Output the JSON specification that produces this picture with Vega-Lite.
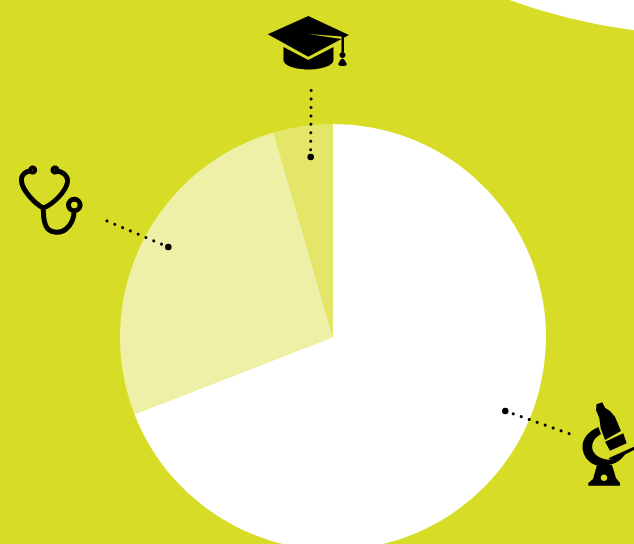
{
"$schema":"https://vega.github.io/schema/vega-lite/v6.json",
"width":634,"height":544,"padding":0,"autosize":{"type":"none"},
"background":"#d7dc26",
"view":{"stroke":null},
"layer":[
{"data":{"values":[{"shape":"corner circle","x":713,"y":-564.5}]},
 "mark":{"type":"circle","size":1440000,"color":"#ffffff","opacity":1},
 "encoding":{"x":{"field":"x","type":"quantitative","axis":null,"scale":{"domain":[0,634],"range":[0,634]}},"y":{"field":"y","type":"quantitative","axis":null,"scale":{"domain":[0,544],"range":[0,544]}}}},
{"data":{"values":[{"category":"Science","share":69.1,"rank":1},{"category":"Medicine","share":26.4,"rank":2},{"category":"Education","share":4.5,"rank":3}]},
 "mark":{"type":"arc","outerRadius":213},
 "encoding":{"theta":{"field":"share","type":"quantitative","stack":true},
  "order":{"field":"rank","type":"ordinal"},
  "color":{"field":"category","type":"nominal","legend":null,"scale":{"domain":["Science","Medicine","Education"],"range":["#ffffff","#eff0a8","#e3e668"]}},
  "x":{"datum":333,"type":"quantitative","axis":null,"scale":{"domain":[0,634],"range":[0,634]}},
  "y":{"datum":337,"type":"quantitative","axis":null,"scale":{"domain":[0,544],"range":[0,544]}}}},
{"data":{"values":[{"category":"Education","x":311.2,"y":90.5,"end":false},{"category":"Education","x":310.7,"y":157,"end":true},{"category":"Medicine","x":107,"y":221,"end":false},{"category":"Medicine","x":168.3,"y":247,"end":true},{"category":"Science","x":570,"y":434,"end":false},{"category":"Science","x":505.3,"y":411,"end":true}]},
 "layer":[
 {"mark":{"type":"line","color":"#000000","strokeWidth":3,"strokeCap":"round","strokeDash":[0.01,8.45]},
  "encoding":{"detail":{"field":"category"},"order":{"field":"y","type":"quantitative"},"x":{"field":"x","type":"quantitative","axis":null,"scale":{"domain":[0,634],"range":[0,634]}},"y":{"field":"y","type":"quantitative","axis":null,"scale":{"domain":[0,544],"range":[0,544]}}}},
 {"transform":[{"filter":"datum.end"}],
  "mark":{"type":"circle","size":42,"color":"#000000","opacity":1},
  "encoding":{"x":{"field":"x","type":"quantitative","axis":null,"scale":{"domain":[0,634],"range":[0,634]}},"y":{"field":"y","type":"quantitative","axis":null,"scale":{"domain":[0,544],"range":[0,544]}}}}
 ]},
{"data":{"values":[{"icon":"graduation cap","x":308,"y":42}]},
 "mark":{"type":"point","filled":true,"opacity":1,"color":"#000000","size":4,"strokeWidth":0,
  "shape":"M0.3,-26 L41,-7 L0.3,14.7 L-40.3,-7.7 Z M0.3,-8 L33.5,-3 L33.5,-5.5 Z M33.5,-5 L36,-5 L36,10 L33.5,10 Z M31.5,13 A3,3 0 1 1 37.5,13 A3,3 0 1 1 31.5,13 Z M34.5,16.5 C36,16.5 37.5,19 38.8,22 C39,23.5 37,24 34.5,24 C32,24 30,23.5 30.2,22 C31.5,19 33,16.5 34.5,16.5 Z M-24.5,5 L0.3,18 L25.5,5 L25.5,18 C25.5,24 13,27.5 0.3,27.5 C-12,27.5 -24.5,24 -24.5,18 Z"},
 "encoding":{"x":{"field":"x","type":"quantitative","axis":null,"scale":{"domain":[0,634],"range":[0,634]}},"y":{"field":"y","type":"quantitative","axis":null,"scale":{"domain":[0,544],"range":[0,544]}}}},
{"data":{"values":[{"icon":"stethoscope","x":47,"y":200}]},
 "mark":{"type":"point","filled":false,"opacity":1,"fill":"transparent","stroke":"#000000","strokeWidth":5,"size":4,
  "shape":"M-15,-29 C-22,-29 -26,-25 -25.5,-19 C-25,-10 -12,4 -3.7,8 C5,5 19,-8 20.5,-18 C21,-25 15,-29 8,-29 M-3.7,8 C-3.5,14 -4,20 -1,26 C2,33 13,34 19,29 C25,24 27,18 27,12 M21.5,5 A5.8,5.8 0 1 0 33.1,5 A5.8,5.8 0 1 0 21.5,5 Z M-16.3,-30 A2,2 0 1 0 -12.3,-30 A2,2 0 1 0 -16.3,-30 Z M6,-30 A2,2 0 1 0 10,-30 A2,2 0 1 0 6,-30 Z"},
 "encoding":{"x":{"field":"x","type":"quantitative","axis":null,"scale":{"domain":[0,634],"range":[0,634]}},"y":{"field":"y","type":"quantitative","axis":null,"scale":{"domain":[0,544],"range":[0,544]}}}},
{"data":{"values":[{"icon":"microscope","x":604,"y":445}]},
 "mark":{"type":"point","filled":true,"opacity":1,"color":"#000000","size":4,"strokeWidth":0,
  "shape":"M-7.5,-40.7 L-1.7,-42.7 L1,-37.3 L6,-34 L11,-28.3 L17,-14 L1,-5 L-3.3,-16.7 L-4.7,-26.7 L-8,-35 Z M1,-3.3 L19.3,-11.7 L22.7,-1.7 L6,5.7 Z M-3,-11 C-8,-8 -11.8,-4 -11.8,1.7 C-11.8,6 -9,10 -4,12.5 C-1,14 3,15 7,14.5 L4.3,13.3 L30,1.7 L30,5 L21,9.5 C17,16 8,21 -2.3,21 C-13,21 -21.5,12 -21.5,1.7 C-21.5,-7 -15,-14 -5.7,-18 Z M-7,20 L8,20 L12,33 L16,38 L16,40.7 L-15.7,40.7 L-15.7,38 L-11,34 Z M-3.3,32.7 A3.3,3.3 0 1 0 3.3,32.7 A3.3,3.3 0 1 0 -3.3,32.7 Z"},
 "encoding":{"x":{"field":"x","type":"quantitative","axis":null,"scale":{"domain":[0,634],"range":[0,634]}},"y":{"field":"y","type":"quantitative","axis":null,"scale":{"domain":[0,544],"range":[0,544]}}}}
]
}
